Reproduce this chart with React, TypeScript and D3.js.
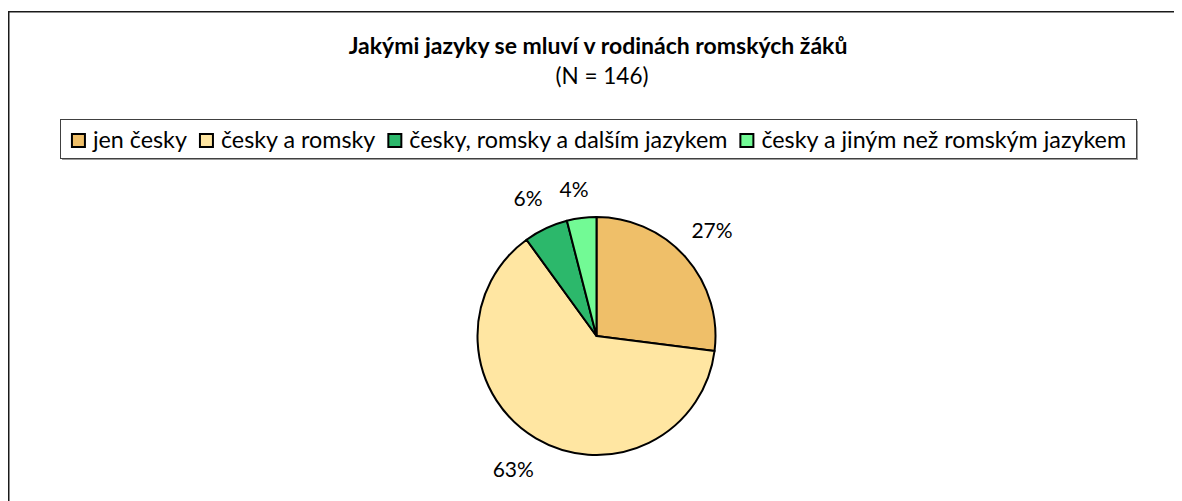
import React, { useEffect, useRef } from "react";
import * as d3 from "d3";

const title = "Jakými jazyky se mluví v rodinách romských žáků";
const subtitle = "(N = 146)";
const categories = [
  "jen česky",
  "česky a romsky",
  "česky, romsky a dalším jazykem",
  "česky a jiným než romským jazykem",
];
const shares = [27, 63, 6, 4];
const colors = ["#EFBF69", "#FFE6A2", "#2CB86B", "#72FA95"];

const W = 1182;
const H = 501;
const FONT = "Lato, 'Open Sans', sans-serif";

export default function App() {
  const ref = useRef<SVGSVGElement | null>(null);

  useEffect(() => {
    const svg = d3.select(ref.current);
    svg.selectAll("*").remove();
    // page coordinates (body margin offset)
    const g = svg.append("g").attr("transform", "translate(-8,-8)");

    // chart area frame (runs past the window on right/bottom)
    g.append("rect")
      .attr("x", 8.75)
      .attr("y", 11.75)
      .attr("width", 1300)
      .attr("height", 700)
      .attr("fill", "#fff")
      .attr("stroke", "#1a1a1a")
      .attr("stroke-width", 1.5);

    g.append("text")
      .attr("x", 598)
      .attr("y", 54)
      .attr("text-anchor", "middle")
      .attr("font-family", FONT)
      .attr("font-weight", "bold")
      .attr("font-size", 23)
      .text(title);

    g.append("text")
      .attr("x", 602)
      .attr("y", 84)
      .attr("text-anchor", "middle")
      .attr("font-family", FONT)
      .attr("font-size", 22.5)
      .text(subtitle);

    // legend
    const legX = 60.5, legY = 119.5, legW = 1076, legH = 39;
    g.append("rect")
      .attr("x", legX + 1.5)
      .attr("y", legY + 1.5)
      .attr("width", legW)
      .attr("height", legH)
      .attr("fill", "#9a9a9a");
    g.append("rect")
      .attr("x", legX)
      .attr("y", legY)
      .attr("width", legW)
      .attr("height", legH)
      .attr("fill", "#fff")
      .attr("stroke", "#404040")
      .attr("stroke-width", 1);

    const legendFont = 23.3;
    const sq = 13;
    const items = g.append("g");
    const texts = categories.map((c) =>
      items
        .append("text")
        .attr("font-family", FONT)
        .attr("font-size", legendFont)
        .attr("y", 148)
        .text(c)
    );
    const widths = texts.map((t) => (t.node() as SVGTextElement).getComputedTextLength());
    const gapSq = 8, gapItem = 12;
    const total =
      widths.reduce((a, b) => a + b, 0) + categories.length * (sq + 1 + gapSq) + (categories.length - 1) * gapItem;
    let x = legX + legW / 2 - total / 2;
    categories.forEach((c, i) => {
      items
        .append("rect")
        .attr("x", x + 1)
        .attr("y", 134)
        .attr("width", sq)
        .attr("height", sq)
        .attr("fill", colors[i])
        .attr("stroke", "#000")
        .attr("stroke-width", 2);
      texts[i].attr("x", x + sq + 1 + gapSq);
      x += sq + 1 + gapSq + widths[i] + gapItem;
    });

    // pie
    const cx = 596.5, cy = 336, R = 119;
    const pie = d3.pie<number>().sort(null).value((d) => d);
    const arcs = pie(shares);
    const arc = d3.arc<d3.PieArcDatum<number>>().innerRadius(0).outerRadius(R);
    const pg = g.append("g").attr("transform", `translate(${cx},${cy})`);
    pg.selectAll("path")
      .data(arcs)
      .join("path")
      .attr("d", arc)
      .attr("fill", (_, i) => colors[i])
      .attr("stroke", "#000")
      .attr("stroke-width", 2)
      .attr("stroke-linejoin", "round");

    // outside-end data labels
    const labelFont = 21;
    const labelShiftX = -4;
    arcs.forEach((a) => {
      const mid = (a.startAngle + a.endAngle) / 2;
      const dx = Math.sin(mid), dy = -Math.cos(mid);
      const t = pg
        .append("text")
        .attr("font-family", FONT)
        .attr("font-size", labelFont)
        .attr("text-anchor", "middle")
        .text(`${a.data}%`);
      const w = (t.node() as SVGTextElement).getComputedTextLength();
      const h = 20;
      const dist = R + 16 + Math.abs(dx) * (w / 2 + 3) + Math.abs(dy) * (h / 2);
      t.attr("x", dx * dist + labelShiftX).attr("y", dy * dist + 7);
    });
  }, []);

  return (
    <svg
      ref={ref}
      width={W - 8}
      height={H - 8}
      style={{ display: "block", overflow: "hidden" }}
    />
  );
}
